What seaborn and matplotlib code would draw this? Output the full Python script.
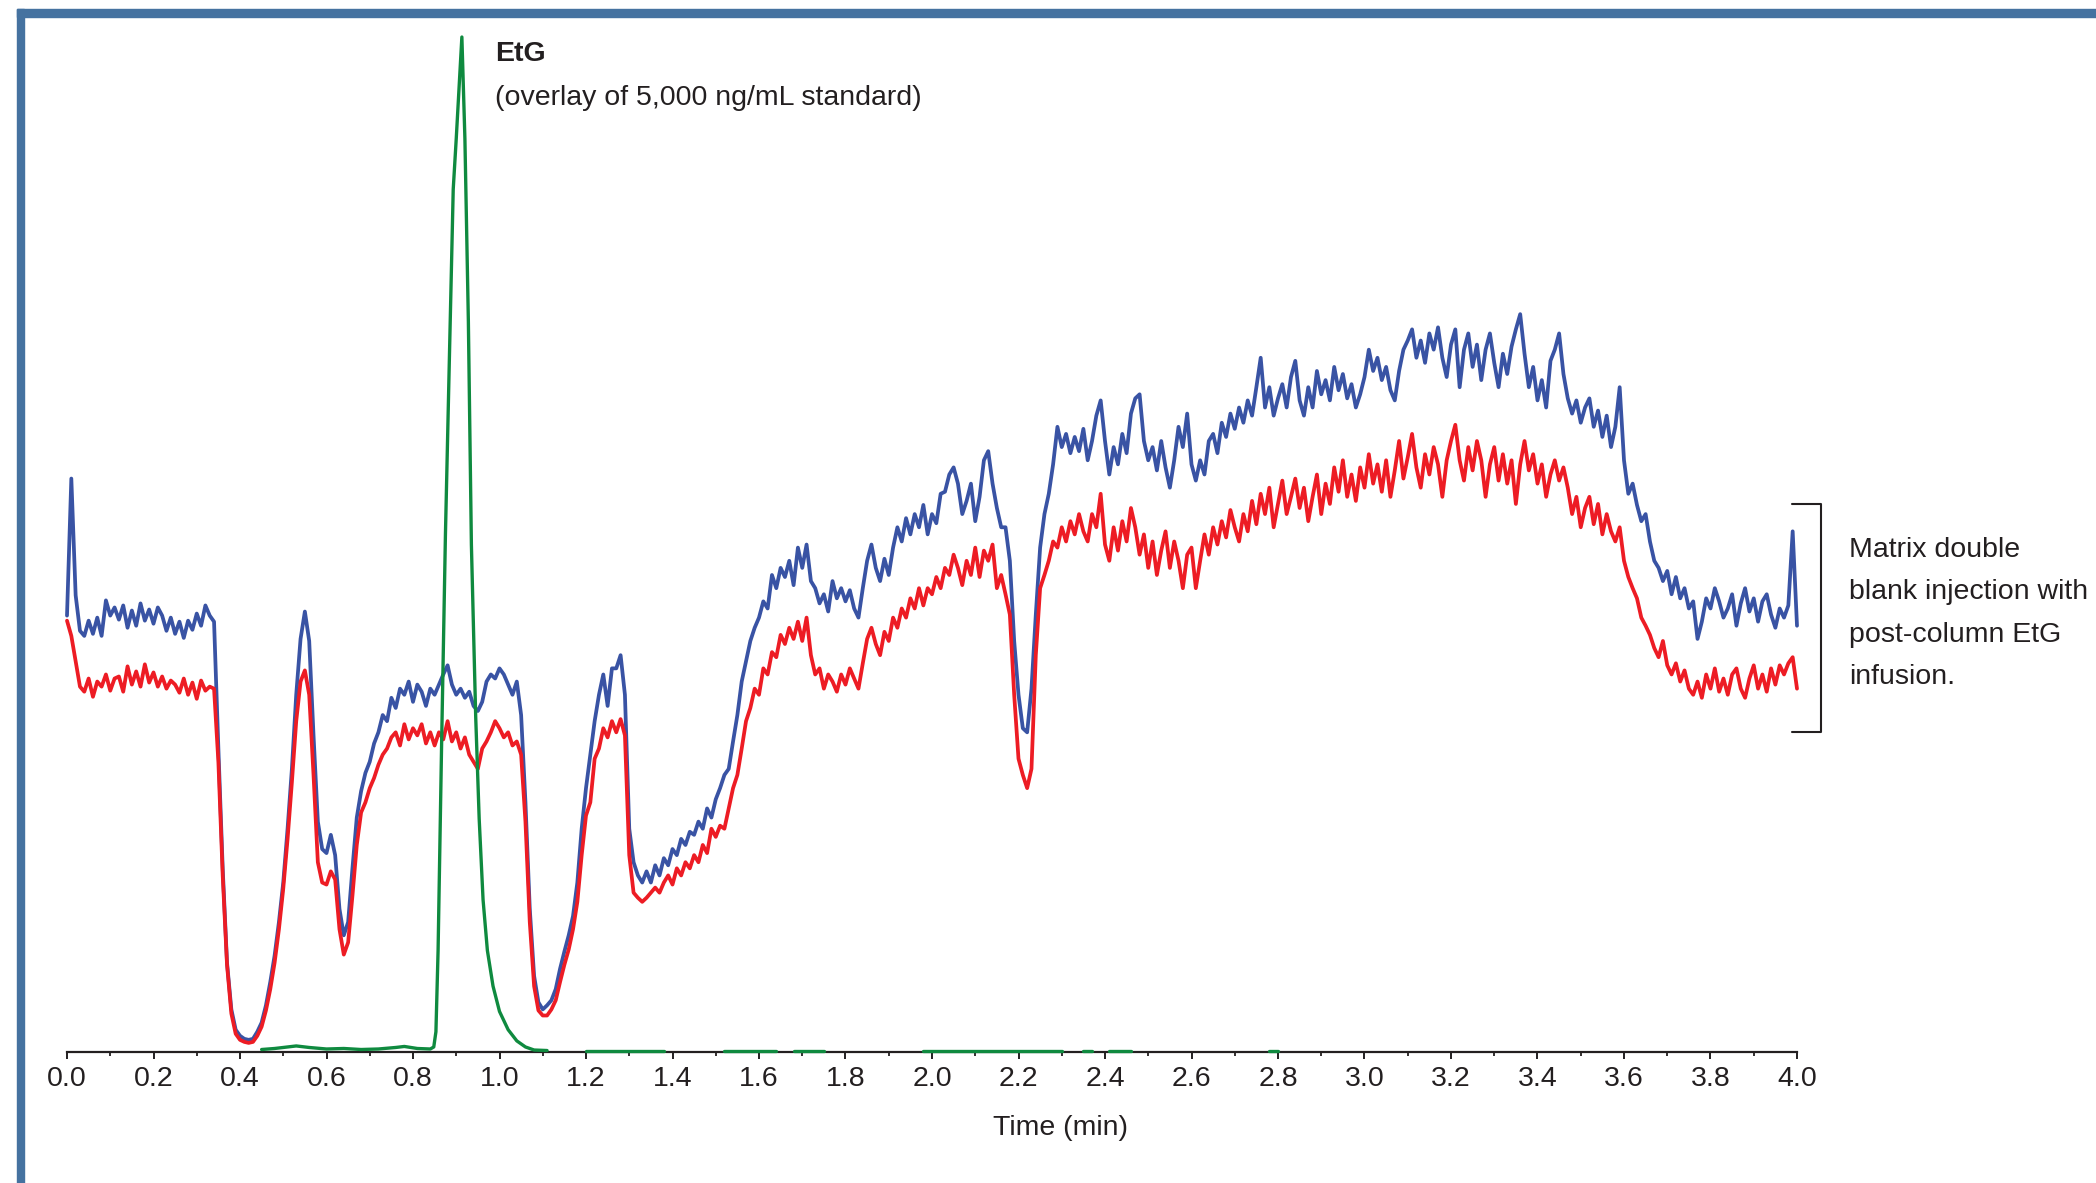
import numpy as np
import pandas as pd
import matplotlib
matplotlib.use("Agg")
import matplotlib.pyplot as plt
from matplotlib.patches import Rectangle
from matplotlib.lines import Line2D
from matplotlib.ticker import MultipleLocator, FormatStrFormatter
import seaborn as sns

# --- data (relative signal, EtG peak = 100) ---

scan_min = [
    0.00, 0.01, 0.02, 0.03, 0.04, 0.05, 0.06, 0.07, 0.08, 0.09,
    0.10, 0.11, 0.12, 0.13, 0.14, 0.15, 0.16, 0.17, 0.18, 0.19,
    0.20, 0.21, 0.22, 0.23, 0.24, 0.25, 0.26, 0.27, 0.28, 0.29,
    0.30, 0.31, 0.32, 0.33, 0.34, 0.35, 0.36, 0.37, 0.38, 0.39,
    0.40, 0.41, 0.42, 0.43, 0.44, 0.45, 0.46, 0.47, 0.48, 0.49,
    0.50, 0.51, 0.52, 0.53, 0.54, 0.55, 0.56, 0.57, 0.58, 0.59,
    0.60, 0.61, 0.62, 0.63, 0.64, 0.65, 0.66, 0.67, 0.68, 0.69,
    0.70, 0.71, 0.72, 0.73, 0.74, 0.75, 0.76, 0.77, 0.78, 0.79,
    0.80, 0.81, 0.82, 0.83, 0.84, 0.85, 0.86, 0.87, 0.88, 0.89,
    0.90, 0.91, 0.92, 0.93, 0.94, 0.95, 0.96, 0.97, 0.98, 0.99,
    1.00, 1.01, 1.02, 1.03, 1.04, 1.05, 1.06, 1.07, 1.08, 1.09,
    1.10, 1.11, 1.12, 1.13, 1.14, 1.15, 1.16, 1.17, 1.18, 1.19,
    1.20, 1.21, 1.22, 1.23, 1.24, 1.25, 1.26, 1.27, 1.28, 1.29,
    1.30, 1.31, 1.32, 1.33, 1.34, 1.35, 1.36, 1.37, 1.38, 1.39,
    1.40, 1.41, 1.42, 1.43, 1.44, 1.45, 1.46, 1.47, 1.48, 1.49,
    1.50, 1.51, 1.52, 1.53, 1.54, 1.55, 1.56, 1.57, 1.58, 1.59,
    1.60, 1.61, 1.62, 1.63, 1.64, 1.65, 1.66, 1.67, 1.68, 1.69,
    1.70, 1.71, 1.72, 1.73, 1.74, 1.75, 1.76, 1.77, 1.78, 1.79,
    1.80, 1.81, 1.82, 1.83, 1.84, 1.85, 1.86, 1.87, 1.88, 1.89,
    1.90, 1.91, 1.92, 1.93, 1.94, 1.95, 1.96, 1.97, 1.98, 1.99,
    2.00, 2.01, 2.02, 2.03, 2.04, 2.05, 2.06, 2.07, 2.08, 2.09,
    2.10, 2.11, 2.12, 2.13, 2.14, 2.15, 2.16, 2.17, 2.18, 2.19,
    2.20, 2.21, 2.22, 2.23, 2.24, 2.25, 2.26, 2.27, 2.28, 2.29,
    2.30, 2.31, 2.32, 2.33, 2.34, 2.35, 2.36, 2.37, 2.38, 2.39,
    2.40, 2.41, 2.42, 2.43, 2.44, 2.45, 2.46, 2.47, 2.48, 2.49,
    2.50, 2.51, 2.52, 2.53, 2.54, 2.55, 2.56, 2.57, 2.58, 2.59,
    2.60, 2.61, 2.62, 2.63, 2.64, 2.65, 2.66, 2.67, 2.68, 2.69,
    2.70, 2.71, 2.72, 2.73, 2.74, 2.75, 2.76, 2.77, 2.78, 2.79,
    2.80, 2.81, 2.82, 2.83, 2.84, 2.85, 2.86, 2.87, 2.88, 2.89,
    2.90, 2.91, 2.92, 2.93, 2.94, 2.95, 2.96, 2.97, 2.98, 2.99,
    3.00, 3.01, 3.02, 3.03, 3.04, 3.05, 3.06, 3.07, 3.08, 3.09,
    3.10, 3.11, 3.12, 3.13, 3.14, 3.15, 3.16, 3.17, 3.18, 3.19,
    3.20, 3.21, 3.22, 3.23, 3.24, 3.25, 3.26, 3.27, 3.28, 3.29,
    3.30, 3.31, 3.32, 3.33, 3.34, 3.35, 3.36, 3.37, 3.38, 3.39,
    3.40, 3.41, 3.42, 3.43, 3.44, 3.45, 3.46, 3.47, 3.48, 3.49,
    3.50, 3.51, 3.52, 3.53, 3.54, 3.55, 3.56, 3.57, 3.58, 3.59,
    3.60, 3.61, 3.62, 3.63, 3.64, 3.65, 3.66, 3.67, 3.68, 3.69,
    3.70, 3.71, 3.72, 3.73, 3.74, 3.75, 3.76, 3.77, 3.78, 3.79,
    3.80, 3.81, 3.82, 3.83, 3.84, 3.85, 3.86, 3.87, 3.88, 3.89,
    3.90, 3.91, 3.92, 3.93, 3.94, 3.95, 3.96, 3.97, 3.98, 3.99,
    4.00,
]

# blue trace (upper matrix blank)
blue_signal = [
    43.0, 56.5, 45.0, 41.5, 41.0, 42.5, 41.2, 42.8, 41.0, 44.5,
    43.0, 43.8, 42.6, 44.0, 41.8, 43.5, 42.0, 44.2, 42.5, 43.6,
    42.2, 43.8, 43.0, 41.5, 42.8, 41.2, 42.4, 40.8, 42.5, 41.6,
    43.2, 42.0, 44.0, 43.0, 42.4, 29.9, 18.1, 8.8, 4.2, 2.2,
    1.6, 1.3, 1.2, 1.3, 2.0, 2.9, 4.6, 6.9, 9.5, 12.8,
    16.7, 22.0, 27.9, 35.2, 40.7, 43.4, 40.5, 31.2, 22.7, 20.0,
    19.6, 21.4, 19.4, 14.1, 11.5, 12.8, 18.1, 23.1, 25.7, 27.5,
    28.6, 30.4, 31.5, 33.2, 32.6, 34.9, 33.9, 35.8, 35.2, 36.5,
    34.5, 36.2, 35.5, 34.1, 35.8, 35.2, 36.2, 37.2, 38.1, 36.2,
    35.2, 35.8, 34.9, 35.5, 34.1, 33.6, 34.5, 36.5, 37.2, 36.8,
    37.8, 37.2, 36.2, 35.2, 36.5, 33.2, 24.6, 14.1, 7.5, 4.9,
    4.2, 4.6, 5.1, 6.2, 8.2, 9.9, 11.5, 13.4, 16.7, 22.0,
    26.0, 29.3, 32.6, 35.2, 37.2, 34.1, 37.8, 37.8, 39.1, 35.2,
    22.0, 18.7, 17.4, 16.7, 17.8, 16.7, 18.4, 17.4, 19.1, 18.4,
    20.0, 19.4, 21.0, 20.4, 21.7, 21.4, 22.7, 22.0, 24.0, 23.1,
    24.9, 26.0, 27.3, 27.9, 30.6, 33.2, 36.5, 38.5, 40.5, 41.8,
    42.8, 44.4, 43.7, 47.0, 45.7, 47.7, 46.8, 48.4, 46.0, 49.7,
    47.7, 50.0, 46.4, 45.7, 44.2, 45.1, 43.4, 46.4, 44.7, 45.7,
    44.4, 45.5, 43.7, 42.8, 45.7, 48.4, 50.0, 47.7, 46.4, 48.6,
    47.0, 49.7, 51.7, 50.3, 52.6, 51.0, 53.0, 51.7, 53.9, 51.0,
    53.0, 52.1, 55.0, 55.2, 56.9, 57.6, 56.0, 53.0, 54.3, 56.0,
    52.3, 54.7, 58.3, 59.2, 56.0, 53.6, 51.7, 51.7, 48.4, 40.5,
    35.2, 31.9, 31.5, 35.8, 43.1, 49.7, 53.0, 55.0, 57.9, 61.6,
    59.6, 60.9, 59.0, 60.6, 59.2, 61.4, 58.3, 60.2, 62.7, 64.2,
    60.2, 56.9, 59.6, 57.9, 60.9, 59.0, 62.9, 64.4, 64.8, 60.2,
    58.3, 59.6, 57.3, 60.2, 57.6, 55.6, 58.3, 61.6, 59.6, 62.9,
    57.9, 56.3, 58.3, 56.9, 60.2, 60.9, 59.0, 62.0, 60.6, 62.9,
    61.4, 63.5, 62.0, 64.2, 62.7, 65.5, 68.4, 63.5, 65.5, 62.7,
    64.4, 65.8, 63.5, 66.5, 68.1, 64.2, 62.7, 65.5, 63.5, 67.1,
    64.8, 66.2, 64.2, 67.5, 65.2, 66.8, 64.4, 65.8, 63.5, 64.8,
    66.5, 69.2, 67.1, 68.4, 66.2, 67.5, 65.2, 64.2, 67.1, 69.2,
    70.1, 71.2, 68.4, 70.1, 67.9, 70.8, 69.2, 71.4, 68.4, 66.5,
    69.7, 71.2, 65.5, 69.2, 70.8, 67.5, 69.7, 66.2, 69.2, 70.8,
    67.9, 65.5, 68.8, 66.8, 69.5, 71.2, 72.7, 68.8, 65.5, 67.5,
    64.2, 66.2, 63.5, 68.1, 69.2, 70.8, 66.8, 64.4, 62.9, 64.2,
    62.0, 63.5, 64.4, 61.6, 63.2, 60.6, 62.7, 59.6, 61.6, 65.5,
    58.3, 55.0, 56.0, 53.9, 52.3, 53.0, 50.3, 48.4, 47.7, 46.4,
    47.4, 45.1, 46.8, 44.7, 45.7, 43.7, 44.4, 40.7, 42.4, 44.7,
    43.7, 45.7, 44.4, 42.8, 43.7, 45.1, 42.0, 44.2, 45.7, 43.4,
    44.7, 42.4, 44.4, 45.1, 43.1, 41.8, 43.7, 42.8, 44.0, 51.3,
    42.0,
]

# red trace (lower matrix blank)
red_signal = [
    42.5, 41.0, 38.5, 36.0, 35.5, 36.8, 35.0, 36.5, 36.0, 37.2,
    35.6, 36.8, 37.0, 35.5, 38.0, 36.2, 37.5, 36.0, 38.2, 36.4,
    37.4, 36.0, 37.0, 35.8, 36.6, 36.2, 35.4, 36.8, 35.2, 36.4,
    34.8, 36.6, 35.6, 36.0, 35.8, 28.6, 17.4, 8.6, 3.8, 1.8,
    1.2, 1.0, 0.9, 1.0, 1.6, 2.5, 4.1, 6.2, 8.8, 12.1,
    16.1, 21.0, 26.6, 32.6, 36.5, 37.6, 35.2, 27.3, 18.7, 16.7,
    16.5, 17.8, 17.0, 12.1, 9.6, 10.8, 15.4, 20.4, 23.6, 24.6,
    26.0, 27.0, 28.3, 29.3, 29.9, 31.0, 31.5, 30.2, 32.3, 30.8,
    31.9, 31.2, 32.3, 30.4, 31.5, 30.2, 31.5, 30.8, 32.6, 30.6,
    31.5, 29.9, 31.0, 29.3, 28.6, 27.9, 29.9, 30.6, 31.5, 32.6,
    31.9, 31.0, 31.5, 30.2, 30.6, 29.3, 22.7, 12.8, 6.5, 4.1,
    3.6, 3.6, 4.2, 5.1, 6.9, 8.6, 10.1, 12.1, 14.8, 19.4,
    23.3, 24.6, 28.9, 29.9, 31.9, 31.0, 32.6, 31.5, 32.8, 31.2,
    19.4, 15.7, 15.2, 14.8, 15.2, 15.7, 16.2, 15.7, 16.7, 17.4,
    16.5, 18.1, 17.4, 18.7, 18.1, 19.4, 18.7, 20.4, 19.6, 22.0,
    21.2, 22.3, 22.0, 24.0, 26.0, 27.3, 29.9, 32.6, 33.9, 35.8,
    35.2, 37.8, 37.2, 39.4, 38.9, 41.1, 40.2, 41.8, 40.7, 42.4,
    40.5, 42.8, 39.1, 37.2, 37.8, 35.8, 37.2, 36.5, 35.5, 37.2,
    36.2, 37.8, 36.8, 35.8, 38.3, 40.7, 41.8, 40.2, 39.1, 41.4,
    40.5, 42.8, 41.8, 43.7, 42.8, 44.7, 43.7, 45.7, 44.0, 45.7,
    45.1, 46.8, 45.7, 47.7, 47.0, 49.0, 47.7, 46.0, 48.4, 47.0,
    49.7, 46.8, 49.4, 48.4, 50.0, 45.7, 47.0, 45.1, 43.1, 35.2,
    28.9, 27.3, 26.0, 27.9, 39.1, 45.7, 47.0, 48.4, 50.3, 49.7,
    51.7, 50.3, 52.3, 51.0, 53.0, 51.3, 50.3, 53.0, 51.7, 55.0,
    50.0, 48.4, 51.7, 49.4, 52.3, 50.3, 53.6, 51.7, 49.0, 51.0,
    47.7, 50.3, 47.0, 49.4, 51.3, 47.7, 50.3, 48.4, 45.7, 49.0,
    49.7, 45.7, 48.4, 51.0, 49.0, 51.7, 50.0, 52.3, 50.7, 53.4,
    51.7, 50.3, 53.0, 51.3, 54.3, 52.0, 55.0, 53.0, 55.6, 51.7,
    54.0, 56.3, 53.0, 54.7, 56.5, 53.6, 55.6, 52.3, 54.7, 56.9,
    53.0, 56.0, 54.0, 57.6, 55.2, 58.3, 54.7, 56.9, 54.3, 57.6,
    55.6, 58.9, 56.0, 57.9, 55.2, 58.3, 54.7, 57.3, 60.2, 56.5,
    58.6, 60.9, 57.6, 55.6, 58.9, 56.9, 59.6, 57.9, 54.7, 58.3,
    60.2, 61.8, 58.3, 56.3, 59.6, 57.3, 60.2, 58.3, 54.7, 57.9,
    59.6, 56.3, 58.9, 56.0, 58.3, 54.0, 57.9, 60.2, 57.3, 58.9,
    56.0, 57.9, 54.7, 56.9, 58.3, 56.3, 57.6, 55.6, 53.0, 54.7,
    51.7, 53.6, 54.7, 52.0, 54.0, 51.0, 53.0, 51.3, 50.3, 51.7,
    48.4, 46.8, 45.7, 44.7, 42.8, 42.0, 41.1, 39.8, 38.9, 40.5,
    38.1, 37.2, 38.3, 36.5, 37.6, 35.8, 35.2, 36.5, 34.9, 37.2,
    35.8, 37.8, 35.5, 36.8, 35.2, 37.2, 37.8, 35.8, 34.9, 36.8,
    38.1, 35.8, 37.2, 35.5, 37.8, 36.2, 38.1, 37.2, 38.3, 38.9,
    35.8,
]

# green trace: EtG standard overlay
etg_time = [0.45, 0.48, 0.51, 0.53, 0.56, 0.60, 0.64, 0.68, 0.72, 0.76,
            0.78, 0.81, 0.84, 0.848, 0.853, 0.858, 0.866, 0.875, 0.885, 0.893,
            0.900, 0.913, 0.920, 0.928, 0.935, 0.945, 0.953, 0.962, 0.972, 0.985,
            1.000, 1.020, 1.040, 1.060, 1.080, 1.110]
etg_signal = [0.25, 0.35, 0.5, 0.6, 0.45, 0.3, 0.35, 0.25, 0.3, 0.45,
              0.55, 0.35, 0.3, 0.5, 2.0, 10.0, 30.0, 51.0, 70.0, 85.0,
              90.0, 100.0, 90.0, 72.0, 50.0, 33.0, 23.0, 15.0, 10.0, 6.5,
              4.0, 2.2, 1.1, 0.5, 0.2, 0.15]

# short stretches where the EtG baseline shows above the axis line
etg_base_start = [1.20, 1.52, 1.68, 1.98, 2.35, 2.41, 2.78]
etg_base_end = [1.38, 1.64, 1.75, 2.30, 2.37, 2.46, 2.80]
etg_base_level = 0.15

BLUE = "#3953a4"
RED = "#ed1c24"
GREEN = "#0f8a3f"
INK = "#231f20"
FRAME = "#4572a0"

sns.set_theme(style="white")
plt.rcParams["font.family"] = ["Liberation Sans", "DejaVu Sans"]

fig = plt.figure(figsize=(20.96, 11.83), dpi=100)
ax = fig.add_axes([67 / 2096, 0.1107, 1730 / 2096, 0.858])

sns.lineplot(x=scan_min, y=blue_signal, color=BLUE, linewidth=2.7,
             estimator=None, sort=False, ax=ax, zorder=2)
sns.lineplot(x=scan_min, y=red_signal, color=RED, linewidth=2.7,
             estimator=None, sort=False, ax=ax, zorder=2.2)

# green: peak plus baseline fragments, one unit each
seg_time, seg_val, seg_id = list(etg_time), list(etg_signal), [0] * len(etg_time)
for i, (a, b) in enumerate(zip(etg_base_start, etg_base_end), start=1):
    seg_time += [a, b]
    seg_val += [etg_base_level, etg_base_level]
    seg_id += [i, i]
green_df = pd.DataFrame({"time": seg_time, "signal": seg_val, "segment": seg_id})
sns.lineplot(data=green_df, x="time", y="signal", units="segment",
             estimator=None, sort=False, color=GREEN, linewidth=2.4,
             ax=ax, zorder=3)

for ln in ax.lines:
    ln.set_clip_on(False)
    ln.set_solid_joinstyle("round")

ax.set_xlim(0, 4)
ax.set_ylim(0, 100)
ax.set_yticks([])
ax.set_ylabel("")
for side in ["left", "top", "right"]:
    ax.spines[side].set_visible(False)
ax.spines["bottom"].set_linewidth(1.6)
ax.spines["bottom"].set_color(INK)
ax.spines["bottom"].set_zorder(2.5)

ax.xaxis.set_major_locator(MultipleLocator(0.2))
ax.xaxis.set_minor_locator(MultipleLocator(0.1))
ax.xaxis.set_major_formatter(FormatStrFormatter("%.1f"))
ax.tick_params(axis="x", which="major", bottom=True, length=5, width=1.4,
               direction="out", color=INK, labelcolor=INK, labelsize=20.5, pad=5)
ax.tick_params(axis="x", which="minor", bottom=True, length=3, width=1.3,
               direction="out", color=INK)

ax.set_xlabel("Time (min)", fontsize=20.5, color=INK)
ax.xaxis.set_label_coords(0.574, -0.0749)
ax.xaxis.label.set_va("center")

# peak label
ax.text(0.99, 98.3, "EtG", fontsize=20.5, fontweight="bold", color=INK,
        ha="left", va="center")
ax.text(0.99, 94.0, "(overlay of 5,000 ng/mL standard)", fontsize=20.5,
        color=INK, ha="left", va="center")

# bracket + note on the right
ax.add_line(Line2D([3.988, 4.056, 4.056, 3.988], [54.0, 54.0, 31.5, 31.5],
                   color=INK, linewidth=1.5, clip_on=False))
ax.text(4.12, 43.2, "Matrix double\nblank injection with\npost-column EtG\ninfusion.",
        fontsize=20.5, color=INK, ha="left", va="center", linespacing=1.82)

# blue frame from the page layout
fig.add_artist(Rectangle((17 / 2096, 0), 7 / 2096, 1 - 9 / 1183,
                         transform=fig.transFigure, color=FRAME, zorder=5))
fig.add_artist(Rectangle((17 / 2096, 1 - 17 / 1183), 1 - 17 / 2096, 8 / 1183,
                         transform=fig.transFigure, color=FRAME, zorder=5))

fig.savefig("out.png", dpi=100)
